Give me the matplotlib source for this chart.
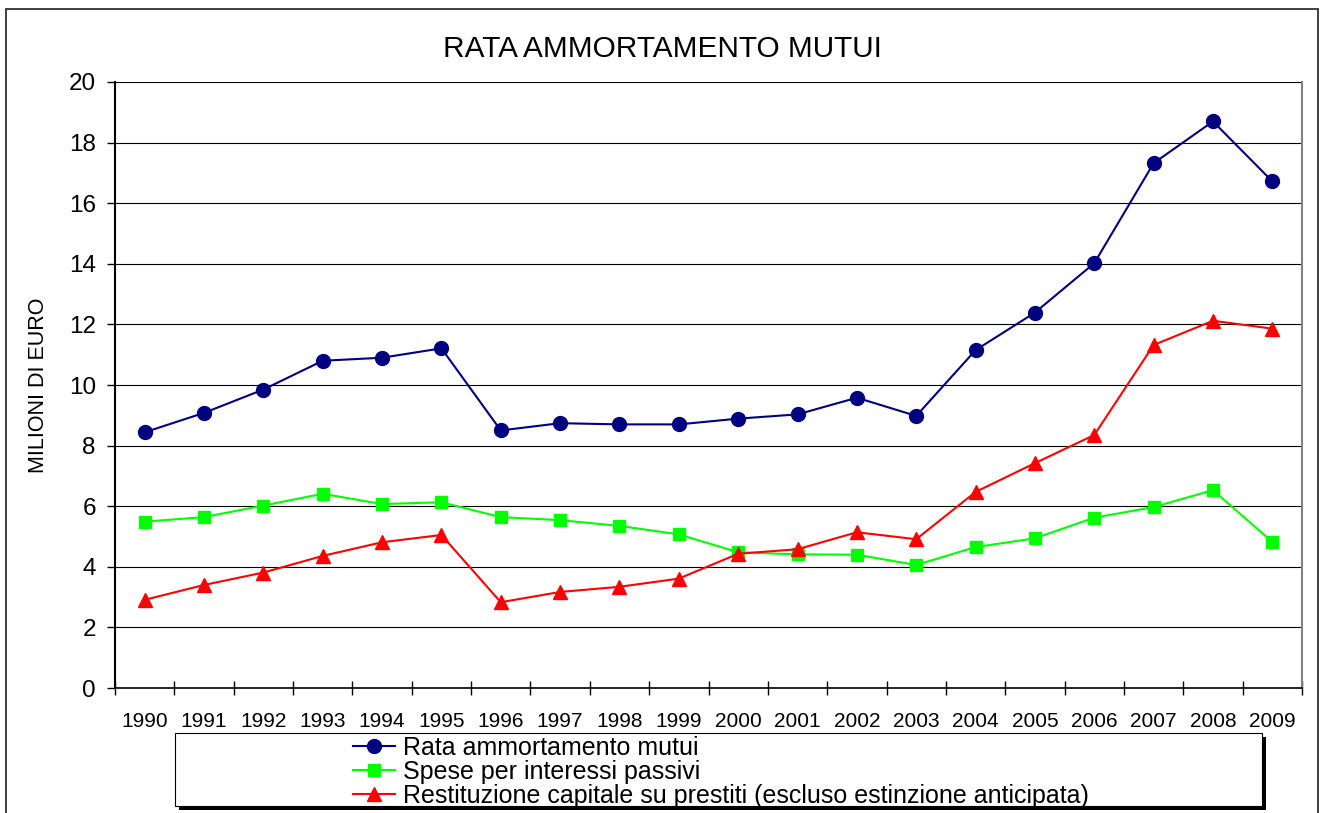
import matplotlib
matplotlib.use("Agg")
import matplotlib.pyplot as plt
from matplotlib.patches import Rectangle
import numpy as np

plt.rcParams['font.family'] = ['Liberation Sans', 'DejaVu Sans']

years = ['1990', '1991', '1992', '1993', '1994', '1995', '1996', '1997', '1998', '1999',
         '2000', '2001', '2002', '2003', '2004', '2005', '2006', '2007', '2008', '2009']
rata = [8.44, 9.08, 9.85, 10.80, 10.90, 11.21, 8.50, 8.74, 8.70, 8.70,
        8.89, 9.03, 9.58, 8.98, 11.15, 12.39, 14.02, 17.32, 18.70, 16.72]
spese = [5.49, 5.64, 6.02, 6.41, 6.07, 6.13, 5.64, 5.54, 5.35, 5.07,
         4.48, 4.41, 4.40, 4.06, 4.65, 4.94, 5.62, 5.97, 6.53, 4.82]
restituzione = [2.91, 3.40, 3.81, 4.36, 4.81, 5.05, 2.83, 3.17, 3.34, 3.61,
                4.43, 4.58, 5.14, 4.91, 6.47, 7.42, 8.35, 11.32, 12.12, 11.86]
labels = ['Rata ammortamento mutui', 'Spese per interessi passivi',
          'Restituzione capitale su prestiti (escluso estinzione anticipata)']
title = 'RATA AMMORTAMENTO MUTUI'
ylabel = 'MILIONI DI EURO'
yticks = [0, 2, 4, 6, 8, 10, 12, 14, 16, 18, 20]

W, H = 1327, 813
fig = plt.figure(figsize=(W / 100, H / 100), dpi=100)
fig.patch.set_facecolor('white')

def fx(px):
    return px / W

def fy(py):
    return 1 - py / H

ax = fig.add_axes([fx(115), fy(688), fx(1302) - fx(115), fy(82) - fy(688)])
x = np.arange(len(years))

l1, = ax.plot(x, rata, color='#000080', lw=1.5, marker='o', markersize=10,
              markerfacecolor='#000080', markeredgecolor='#000080', zorder=3)
l2, = ax.plot(x, spese, color='#00FF00', lw=1.5, marker='s', markersize=8.8,
              markerfacecolor='#00FF00', markeredgecolor='#00FF00', zorder=4)
l3, = ax.plot(x, restituzione, color='#FF0000', lw=1.5, marker='^', markersize=10.5,
              markerfacecolor='#FF0000', markeredgecolor='#FF0000', zorder=5)

ax.set_xlim(-0.5, len(years) - 0.5)
ax.set_ylim(0, 20)
ax.set_yticks(yticks)
ax.set_yticklabels([str(v) for v in yticks], fontsize=17.5)
ax.set_xticks(x)
ax.set_xticklabels(years, fontsize=15)
ax.set_xticks(np.arange(-0.5, len(years), 1.0), minor=True)
ax.tick_params(axis='x', which='major', length=0, pad=17)
ax.tick_params(axis='x', which='minor', direction='inout', length=10, width=1, color='black')
ax.tick_params(axis='y', which='major', direction='out', length=5.8, width=1, pad=8, color='black')

for v in yticks[1:]:
    ax.axhline(v, color='black', lw=0.8, zorder=1)

ax.spines['left'].set_linewidth(1.5)
ax.spines['bottom'].set_linewidth(1.2)
ax.spines['top'].set_visible(False)
ax.spines['right'].set_color('#808080')
ax.spines['right'].set_linewidth(1.5)

ax.set_ylabel(ylabel, fontsize=15.5, labelpad=14)
ax.yaxis.label.set_position((0, (fy(385) - fy(688)) / (fy(82) - fy(688))))

fig.text(fx(662), fy(49), title, fontsize=21.4, ha='center', va='center')

# outer chart border
fig.patches.append(Rectangle((fx(6), -0.02), fx(1318) - fx(6), fy(9) + 0.02,
                             transform=fig.transFigure, fill=False,
                             edgecolor='#303030', lw=1.3, zorder=0))

# legend frame with shadow
lx0, lx1, ly0, ly1 = 175, 1262, 733, 806
fig.patches.append(Rectangle((fx(lx0 + 4), fy(ly1 + 4)), fx(lx1) - fx(lx0), fy(ly0) - fy(ly1),
                             transform=fig.transFigure, facecolor='black',
                             edgecolor='black', lw=0, zorder=1))
fig.patches.append(Rectangle((fx(lx0), fy(ly1)), fx(lx1) - fx(lx0), fy(ly0) - fy(ly1),
                             transform=fig.transFigure, facecolor='white',
                             edgecolor='black', lw=0.8, zorder=2))

leg = fig.legend([l1, l2, l3], labels, loc='center',
                 bbox_to_anchor=(fx(720.5), fy(771.5)), frameon=False,
                 fontsize=18, handlelength=1.7, handletextpad=0.3,
                 labelspacing=0.0, borderpad=0, borderaxespad=0)
leg.set_zorder(5)

fig.savefig('out.png', dpi=100)
